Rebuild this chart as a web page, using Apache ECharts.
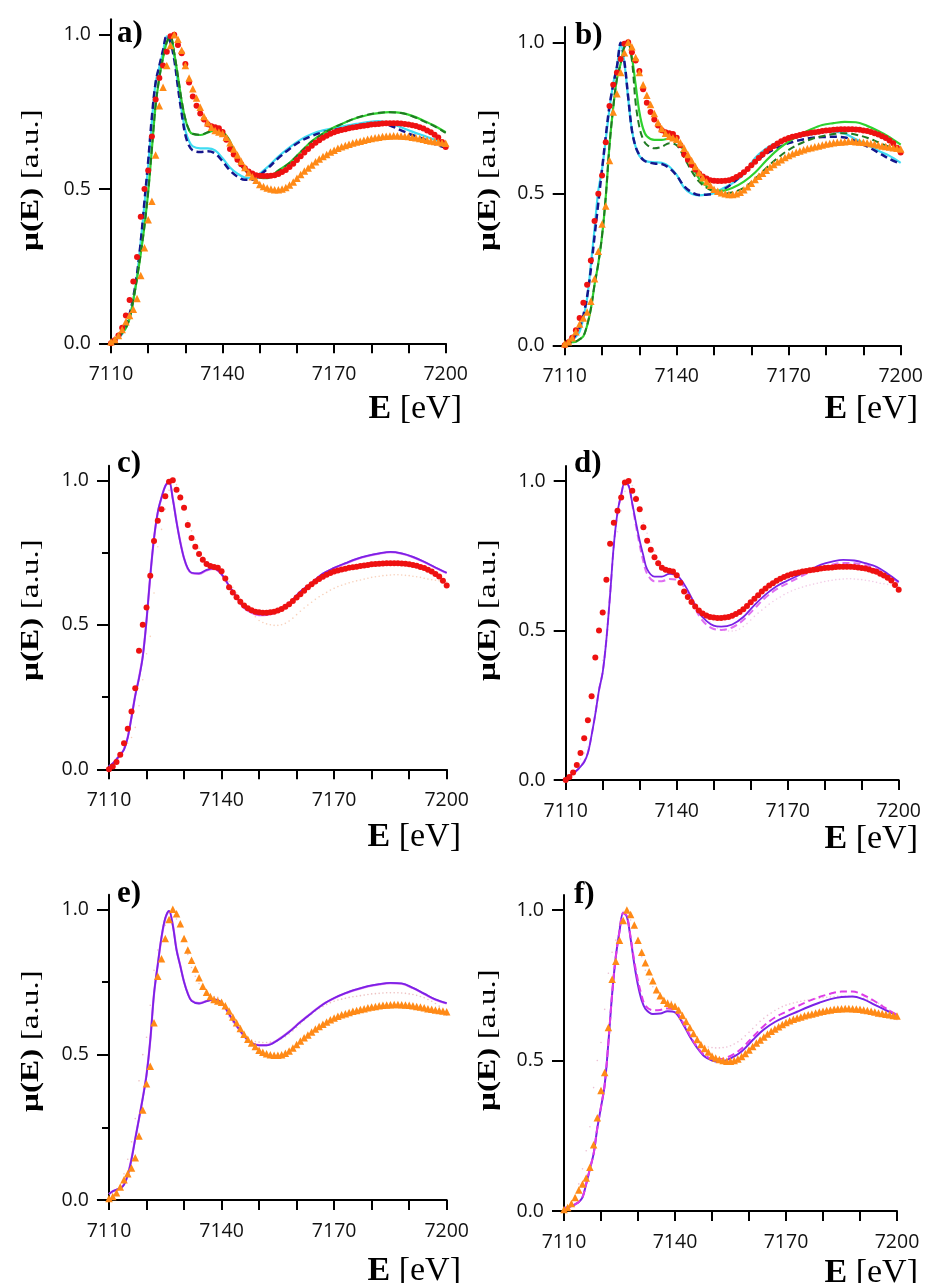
<!DOCTYPE html>
<html>
<head>
<meta charset="utf-8">
<script src="https://cdn.jsdelivr.net/npm/echarts@6/dist/echarts.min.js"></script>
<style>
html,body{margin:0;padding:0;background:#fff;}
#chart{width:926px;height:1283px;}
</style>
</head>
<body>
<div id="chart"></div>
<script>
// ---------------- DATA ----------------
const PANEL_LABELS = ['a)', 'b)', 'c)', 'd)', 'e)', 'f)'];
const X_TICK_LABELS = [7110, 7140, 7170, 7200];
const Y_TICK_LABELS = [0, 0.5, 1.0];

// experimental energy grid (eV)
const E_EXP = [7110,7111,7112,7113,7114,7115,7116,7117,7118,7119,7120,7121,7122,7123,7124,7125,7126,7127,7128,7129,
7130,7131,7132,7133,7134,7135,7136,7137,7138,7139,7140,7141,7142,7143,7144,7145,7146,7147,7148,7149,
7150,7151,7152,7153,7154,7155,7156,7157,7158,7159,7160,7161,7162,7163,7164,7165,7166,7167,7168,7169,
7170,7171,7172,7173,7174,7175,7176,7177,7178,7179,7180,7181,7182,7183,7184,7185,7186,7187,7188,7189,
7190,7191,7192,7193,7194,7195,7196,7197,7198,7199,7200];

// red circles (experimental spectrum 1)
const EXP_RED = [0.0,0.01,0.025,0.05,0.09,0.14,0.20,0.28,0.41,0.50,0.56,0.67,0.79,0.86,0.90,0.945,0.995,1.0,0.967,0.94,
0.905,0.845,0.80,0.77,0.745,0.725,0.71,0.703,0.70,0.697,0.685,0.66,0.63,0.612,0.595,0.58,0.567,0.557,0.55,0.545,
0.543,0.542,0.542,0.543,0.545,0.549,0.555,0.562,0.571,0.582,0.594,0.606,0.618,0.63,0.64,0.65,0.658,0.666,0.673,0.679,
0.684,0.688,0.691,0.694,0.697,0.699,0.701,0.703,0.705,0.707,0.709,0.71,0.711,0.712,0.713,0.713,0.713,0.713,0.712,0.711,
0.709,0.707,0.704,0.70,0.696,0.69,0.684,0.676,0.667,0.652,0.636];

// orange triangles (experimental spectrum 2)
const EXP_ORANGE = [0.005,0.012,0.025,0.045,0.07,0.09,0.11,0.145,0.22,0.31,0.40,0.46,0.61,0.77,0.83,0.90,0.965,1.0,0.985,0.95,
0.90,0.86,0.825,0.795,0.765,0.735,0.715,0.70,0.69,0.685,0.68,0.668,0.65,0.63,0.61,0.59,0.57,0.553,0.54,0.528,
0.515,0.508,0.503,0.50,0.498,0.498,0.50,0.505,0.513,0.523,0.535,0.547,0.558,0.568,0.578,0.588,0.597,0.605,0.612,0.62,
0.626,0.632,0.637,0.641,0.645,0.649,0.652,0.655,0.658,0.661,0.664,0.666,0.668,0.67,0.671,0.672,0.673,0.673,0.672,0.671,
0.67,0.668,0.666,0.664,0.661,0.658,0.656,0.654,0.652,0.65,0.648];

// theory energy grid (eV)
const E_TH = [7110,7111,7112,7113,7114,7115,7116,7117,7118,7119,7120,7121,7122,7123,7124,7125,7126,7127,7128,7129,
7130,7131,7132,7134,7136,7138,7140,7142,7144,7146,7148,7150,7152,7155,7158,7161,7164,7167,7170,7173,
7176,7179,7182,7185,7188,7191,7194,7197,7200];

// panel a
const A_NAVY = [0.0,0.01,0.02,0.035,0.065,0.095,0.15,0.225,0.33,0.46,0.59,0.735,0.845,0.90,0.95,0.997,0.975,0.92,0.83,0.745,
0.675,0.64,0.625,0.62,0.622,0.615,0.59,0.56,0.54,0.53,0.53,0.545,0.565,0.60,0.63,0.655,0.672,0.684,0.692,0.699,
0.705,0.711,0.713,0.706,0.69,0.675,0.662,0.646,0.634];
const A_CYAN = [0.0,0.008,0.018,0.03,0.05,0.085,0.14,0.22,0.33,0.45,0.575,0.72,0.845,0.895,0.945,0.995,0.98,0.93,0.84,0.755,
0.69,0.655,0.638,0.632,0.632,0.625,0.60,0.57,0.55,0.537,0.535,0.55,0.57,0.605,0.635,0.66,0.678,0.69,0.698,0.705,
0.711,0.717,0.72,0.713,0.70,0.686,0.673,0.66,0.648];
const A_GREEN = [0.0,0.012,0.022,0.035,0.05,0.08,0.14,0.21,0.29,0.38,0.49,0.63,0.77,0.86,0.925,0.975,0.995,0.94,0.865,0.785,
0.725,0.69,0.678,0.675,0.683,0.69,0.685,0.655,0.595,0.562,0.545,0.537,0.535,0.56,0.585,0.62,0.655,0.68,0.70,0.716,
0.73,0.74,0.746,0.749,0.747,0.737,0.722,0.705,0.684];
const A_DKGREEN = [0.0,0.01,0.02,0.034,0.05,0.082,0.14,0.212,0.292,0.38,0.492,0.632,0.772,0.862,0.926,0.976,0.994,0.942,0.866,0.787,
0.727,0.692,0.679,0.676,0.684,0.691,0.684,0.652,0.594,0.561,0.545,0.538,0.536,0.559,0.584,0.62,0.654,0.679,0.699,0.716,
0.731,0.741,0.747,0.749,0.746,0.736,0.72,0.703,0.682];

// panel b
const B_NAVY = [0.0,0.012,0.02,0.035,0.06,0.10,0.16,0.25,0.36,0.47,0.58,0.69,0.79,0.86,0.92,0.998,0.935,0.82,0.71,0.655,
0.628,0.612,0.605,0.60,0.598,0.585,0.56,0.525,0.505,0.496,0.497,0.50,0.51,0.535,0.57,0.605,0.632,0.652,0.667,0.677,
0.684,0.687,0.688,0.686,0.673,0.656,0.636,0.615,0.598];
const B_CYAN = [0.005,0.01,0.018,0.028,0.045,0.09,0.155,0.265,0.385,0.51,0.58,0.68,0.78,0.865,0.92,0.995,0.93,0.815,0.71,0.655,
0.625,0.614,0.607,0.604,0.602,0.59,0.562,0.52,0.50,0.495,0.497,0.502,0.515,0.535,0.565,0.618,0.65,0.67,0.68,0.689,
0.696,0.703,0.705,0.698,0.68,0.662,0.642,0.625,0.602];
const B_GREEN = [0.005,0.008,0.01,0.012,0.02,0.03,0.065,0.12,0.20,0.27,0.36,0.49,0.66,0.785,0.88,0.93,0.985,0.995,0.95,0.86,
0.77,0.715,0.69,0.678,0.678,0.682,0.675,0.64,0.595,0.55,0.525,0.512,0.51,0.52,0.54,0.57,0.61,0.645,0.672,0.695,
0.713,0.727,0.733,0.737,0.736,0.724,0.707,0.687,0.662];
const B_DKGREEN = [0.005,0.008,0.01,0.013,0.02,0.03,0.066,0.12,0.20,0.27,0.362,0.49,0.66,0.785,0.88,0.93,0.985,0.995,0.94,0.80,
0.72,0.68,0.662,0.65,0.655,0.667,0.66,0.62,0.575,0.54,0.52,0.507,0.50,0.505,0.52,0.55,0.585,0.618,0.645,0.665,
0.68,0.69,0.697,0.70,0.695,0.685,0.67,0.655,0.645];

// panel c
const C_PURPLE = [0.01,0.02,0.035,0.05,0.068,0.11,0.18,0.255,0.315,0.39,0.515,0.67,0.80,0.89,0.94,0.98,0.995,0.935,0.855,0.785,
0.73,0.695,0.68,0.678,0.69,0.695,0.675,0.635,0.597,0.56,0.545,0.536,0.536,0.548,0.575,0.615,0.645,0.677,0.697,0.713,
0.728,0.739,0.747,0.752,0.747,0.735,0.718,0.698,0.68];
const C_VIOLET = [0.01,0.02,0.034,0.05,0.07,0.112,0.18,0.256,0.318,0.392,0.515,0.668,0.80,0.888,0.94,0.98,0.994,0.937,0.857,0.787,
0.73,0.694,0.679,0.676,0.688,0.693,0.674,0.634,0.595,0.558,0.542,0.533,0.534,0.547,0.574,0.613,0.644,0.676,0.696,0.712,
0.727,0.738,0.746,0.751,0.746,0.734,0.717,0.697,0.679];

// panel d
const D_PURPLE = [0.0,0.012,0.022,0.032,0.045,0.06,0.09,0.15,0.22,0.30,0.36,0.47,0.62,0.785,0.895,0.955,0.995,0.985,0.925,0.86,
0.80,0.75,0.705,0.68,0.68,0.689,0.685,0.655,0.61,0.56,0.532,0.516,0.513,0.52,0.545,0.585,0.62,0.648,0.667,0.685,
0.703,0.72,0.73,0.736,0.734,0.725,0.713,0.69,0.663];
const D_VIOLET = [0.0,0.012,0.022,0.032,0.045,0.062,0.092,0.15,0.22,0.30,0.362,0.47,0.62,0.783,0.893,0.953,0.993,0.983,0.92,0.85,
0.785,0.73,0.69,0.665,0.665,0.672,0.67,0.645,0.60,0.55,0.52,0.505,0.502,0.51,0.535,0.573,0.61,0.638,0.658,0.677,
0.695,0.71,0.72,0.726,0.725,0.718,0.706,0.685,0.66];

// panel e
const E_PURPLE = [0.02,0.03,0.036,0.04,0.052,0.085,0.14,0.21,0.28,0.35,0.43,0.55,0.71,0.81,0.905,0.97,0.995,0.945,0.86,0.805,
0.75,0.71,0.685,0.676,0.684,0.69,0.679,0.64,0.60,0.565,0.54,0.532,0.532,0.55,0.578,0.612,0.643,0.673,0.695,0.712,
0.725,0.736,0.743,0.747,0.745,0.73,0.71,0.69,0.677];
const E_VIOLET = [0.02,0.03,0.035,0.04,0.054,0.087,0.142,0.212,0.28,0.352,0.432,0.55,0.708,0.81,0.903,0.968,0.994,0.947,0.862,0.806,
0.751,0.711,0.686,0.677,0.684,0.689,0.678,0.639,0.599,0.564,0.54,0.533,0.533,0.551,0.579,0.613,0.644,0.673,0.694,0.711,
0.724,0.735,0.742,0.746,0.744,0.729,0.709,0.689,0.676];

// panel f
const F_PURPLE = [0.01,0.012,0.016,0.022,0.03,0.045,0.09,0.14,0.19,0.275,0.345,0.42,0.56,0.72,0.845,0.93,0.99,0.978,0.905,0.82,
0.75,0.70,0.672,0.655,0.656,0.664,0.66,0.625,0.58,0.542,0.513,0.50,0.496,0.507,0.53,0.568,0.603,0.628,0.646,0.662,
0.678,0.692,0.704,0.711,0.713,0.703,0.685,0.667,0.651];
const F_MAGENTA = [0.01,0.012,0.016,0.022,0.03,0.046,0.09,0.14,0.19,0.276,0.346,0.42,0.56,0.72,0.845,0.93,0.99,0.98,0.91,0.83,
0.765,0.715,0.682,0.667,0.668,0.673,0.668,0.63,0.585,0.545,0.518,0.506,0.505,0.515,0.54,0.578,0.615,0.643,0.662,0.68,
0.697,0.711,0.722,0.729,0.729,0.717,0.697,0.673,0.652];

// ---------------- STYLE ----------------
const COL = {
  navy: '#15168c', cyan: '#3fdcf2', green: '#2fd12f', dkgreen: '#1f7a22',
  red: '#ee1111', orange: '#ff8a17', purple: '#7a22e6', violet: '#df6ef2', magenta: '#de3ce8'
};
const GRIDS = [
  {left: 111, top: 19.3, width: 334.7, height: 324},
  {left: 564.7, top: 27.1, width: 339, height: 318.2},
  {left: 109, top: 465.8, width: 337.7, height: 303.5},
  {left: 565.7, top: 466, width: 333, height: 314},
  {left: 109, top: 894.8, width: 337.7, height: 305.2},
  {left: 564, top: 895, width: 333, height: 316}
];
const Y_TITLE_POS = [[31,180],[488,180],[31,610],[488,610],[31,1041],[488,1040]];
const X_TITLE_POS = [[462,409],[918,409],[461,837],[918,839],[461,1271],[918,1273]];
const LABEL_POS = [[117,34],[575,36],[117,464],[574,464],[117,894],[574,895]];

function pairs(xs, ys) { return xs.map((x, i) => [x, ys[i]]); }

const TICK_FONT = '"Open Sans", "DejaVu Sans", sans-serif';

const xAxes = GRIDS.map((g, i) => ({
  type: 'value', gridIndex: i, min: 7110, max: 7200, interval: 10,
  axisLine: {show: true, onZero: false, lineStyle: {color: '#000', width: 2}},
  axisTick: {show: true, length: 10, lineStyle: {color: '#000', width: 2}},
  axisLabel: {show: true, customValues: X_TICK_LABELS, margin: 21, fontFamily: TICK_FONT, fontSize: 19.5, color: '#111',
    formatter: v => String(v)},
  splitLine: {show: false}
}));
const yAxes = GRIDS.map((g, i) => ({
  type: 'value', gridIndex: i, min: 0, max: 1.05, interval: 0.5,
  axisLine: {show: true, onZero: false, lineStyle: {color: '#000', width: 2}},
  axisTick: {show: true, length: 12, customValues: Y_TICK_LABELS, lineStyle: {color: '#000', width: 2}},
  axisLabel: {show: true, customValues: Y_TICK_LABELS, margin: 20, fontFamily: TICK_FONT, fontSize: 19.5, color: '#111',
    formatter: v => v.toFixed(1)},
  splitLine: {show: false}
}));
// minor y ticks on panels c and e
[2, 4].forEach(gi => {
  yAxes.push({
    type: 'value', gridIndex: gi, min: 0, max: 1.05, position: 'left',
    axisLine: {show: false},
    axisTick: {show: true, length: 7, customValues: [0.25, 0.75], lineStyle: {color: '#000', width: 2}},
    axisLabel: {show: false},
    splitLine: {show: false}
  });
});

function lineS(gi, ys, color, width, dashed, z) {
  return {
    type: 'line', xAxisIndex: gi, yAxisIndex: gi, data: pairs(E_TH, ys),
    showSymbol: false, symbol: 'none', smooth: 0.35, z: z || 2,
    lineStyle: {color: color, width: width, type: dashed ? [7, 4] : 'solid', opacity: 1},
    emphasis: {disabled: true}, silent: true
  };
}
function redS(gi) {
  return {type: 'scatter', xAxisIndex: gi, yAxisIndex: gi, data: pairs(E_EXP, EXP_RED),
    symbol: 'circle', symbolSize: 6, itemStyle: {color: COL.red, opacity: 1}, z: 5, silent: true};
}
function orangeS(gi) {
  return {type: 'scatter', xAxisIndex: gi, yAxisIndex: gi, data: pairs(E_EXP, EXP_ORANGE),
    symbol: 'triangle', symbolSize: 7.5, itemStyle: {color: COL.orange, opacity: 1}, z: 6, silent: true};
}
function faintS(gi, ys, color) {
  return {type: 'scatter', xAxisIndex: gi, yAxisIndex: gi, data: pairs(E_EXP, ys),
    symbol: 'circle', symbolSize: 1.6, itemStyle: {color: color, opacity: 1}, z: 1, silent: true};
}

const series = [
  // a
  lineS(0, A_CYAN, COL.cyan, 2.2, false, 2),
  lineS(0, A_NAVY, COL.navy, 2.5, true, 3),
  lineS(0, A_GREEN, COL.green, 2.2, false, 3),
  lineS(0, A_DKGREEN, COL.dkgreen, 2, true, 4),
  redS(0), orangeS(0),
  // b
  lineS(1, B_CYAN, COL.cyan, 2.2, false, 2),
  lineS(1, B_NAVY, COL.navy, 2.5, true, 3),
  lineS(1, B_GREEN, COL.green, 2.2, false, 3),
  lineS(1, B_DKGREEN, COL.dkgreen, 2, true, 4),
  redS(1), orangeS(1),
  // c
  faintS(2, EXP_ORANGE, 'rgba(240,170,130,0.55)'),
  lineS(2, C_VIOLET, COL.violet, 2.2, false, 2),
  lineS(2, C_PURPLE, COL.purple, 1.8, false, 3),
  redS(2),
  // d
  faintS(3, EXP_ORANGE, 'rgba(230,160,210,0.55)'),
  lineS(3, D_VIOLET, COL.violet, 2, true, 2),
  lineS(3, D_PURPLE, COL.purple, 1.8, false, 3),
  redS(3),
  // e
  faintS(4, EXP_RED, 'rgba(220,130,130,0.5)'),
  lineS(4, E_VIOLET, COL.violet, 2.2, false, 2),
  lineS(4, E_PURPLE, COL.purple, 1.8, false, 3),
  orangeS(4),
  // f
  faintS(5, EXP_RED, 'rgba(220,130,170,0.5)'),
  lineS(5, F_PURPLE, COL.purple, 2, false, 2),
  lineS(5, F_MAGENTA, COL.magenta, 2, true, 3),
  orangeS(5)
];

const SERIF = '"Liberation Serif", "Times New Roman", serif';
const graphic = [];
GRIDS.forEach((g, i) => {
  graphic.push({
    type: 'text', x: Y_TITLE_POS[i][0], y: Y_TITLE_POS[i][1], rotation: Math.PI / 2, scaleX: 1.28, scaleY: 1,
    style: {
      text: '{b|μ(E)}{r| [a.u.]}', align: 'center', verticalAlign: 'middle',
      rich: {b: {font: 'bold 26px ' + SERIF, fill: '#000'}, r: {font: '26px ' + SERIF, fill: '#000'}}
    }, silent: true
  });
  graphic.push({
    type: 'text', x: X_TITLE_POS[i][0], y: X_TITLE_POS[i][1],
    style: {
      text: '{b|E}{r| [eV]}', align: 'right', verticalAlign: 'middle',
      rich: {b: {font: 'bold 34px ' + SERIF, fill: '#000'}, r: {font: '34px ' + SERIF, fill: '#000'}}
    }, silent: true
  });
  graphic.push({
    type: 'text', x: LABEL_POS[i][0], y: LABEL_POS[i][1],
    style: {text: PANEL_LABELS[i], font: 'bold 31px ' + SERIF, fill: '#000', align: 'left', verticalAlign: 'middle'},
    silent: true
  });
});

const chart = echarts.init(document.getElementById('chart'), null, {renderer: 'canvas'});
chart.setOption({
  animation: false,
  backgroundColor: '#fff',
  grid: GRIDS.map(g => Object.assign({containLabel: false}, g)),
  xAxis: xAxes,
  yAxis: yAxes,
  series: series,
  graphic: graphic
});
</script>
</body>
</html>
